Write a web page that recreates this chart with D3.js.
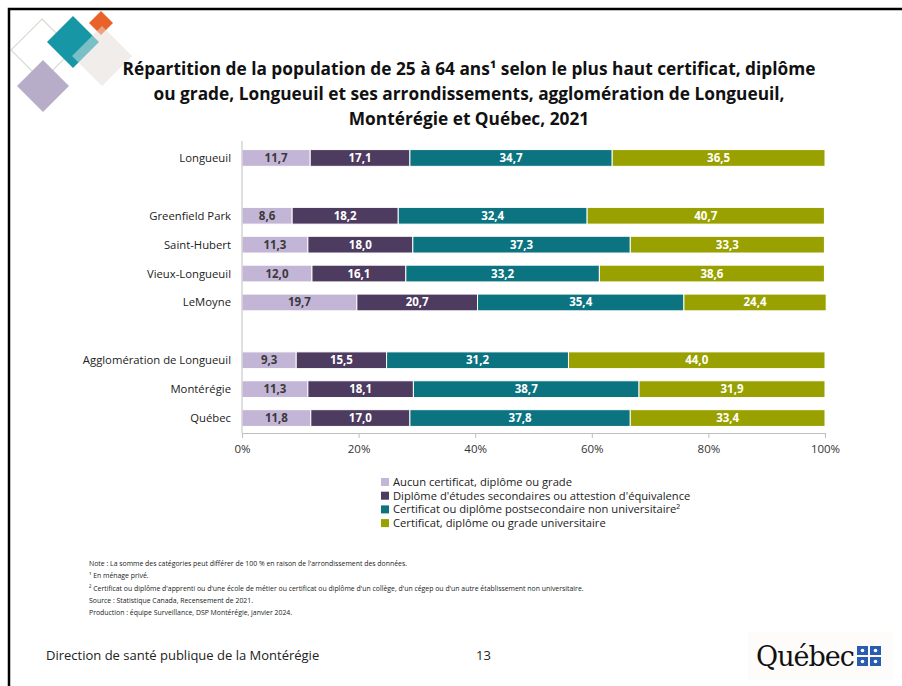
<!DOCTYPE html>
<html>
<head>
<meta charset="utf-8">
<script src="https://cdn.jsdelivr.net/npm/d3@7"></script>
<style>
  body { margin: 0; background: #fff; }
  svg { display: block; font-family: "Open Sans", "Noto Sans", sans-serif; }
</style>
</head>
<body>
<svg id="chart" width="902" height="686"></svg>
<script>
// rows (null = empty spacer slot)
var categories = ["Longueuil", null, "Greenfield Park", "Saint-Hubert", "Vieux-Longueuil", "LeMoyne", null,
  "Agglomération de Longueuil", "Montérégie", "Québec"];
var aucun      = [11.7, null, 8.6, 11.3, 12.0, 19.7, null, 9.3, 11.3, 11.8];
var secondaire = [17.1, null, 18.2, 18.0, 16.1, 20.7, null, 15.5, 18.1, 17.0];
var postsec    = [34.7, null, 32.4, 37.3, 33.2, 35.4, null, 31.2, 38.7, 37.8];
var univ       = [36.5, null, 40.7, 33.3, 38.6, 24.4, null, 44.0, 31.9, 33.4];
var seriesNames = ["Aucun certificat, diplôme ou grade",
  "Diplôme d'études secondaires ou attestion d'équivalence",
  "Certificat ou diplôme postsecondaire non universitaire²",
  "Certificat, diplôme ou grade universitaire"];
var tickValues = [0, 20, 40, 60, 80, 100];
var colors = ["#c3b5d6", "#4d3b60", "#0c7380", "#99a100"];
var labelColors = ["#3a3a3a", "#fff", "#fff", "#fff"];
var titleLines = ["Répartition de la population de 25 à 64 ans¹ selon le plus haut certificat, diplôme",
  "ou grade, Longueuil et ses arrondissements, agglomération de Longueuil,",
  "Montérégie et Québec, 2021"];
var notes = ["Note : La somme des catégories peut différer de 100 % en raison de l'arrondissement des données.",
  "¹ En ménage privé.",
  "² Certificat ou diplôme d'apprenti ou d'une école de métier ou certificat ou diplôme d'un collège, d'un cégep ou d'un autre établissement non universitaire.",
  "Source : Statistique Canada, Recensement de 2021.",
  "Production : équipe Surveillance, DSP Montérégie, janvier 2024."];

var svg = d3.select("#chart");

// decoration diamonds
function diamond(cx, cy, r) { return "M" + cx + "," + (cy - r) + " L" + (cx + r) + "," + cy + " L" + cx + "," + (cy + r) + " L" + (cx - r) + "," + cy + "Z"; }
var deco = svg.append("g");
deco.append("path").attr("d", diamond(42, 50, 31)).attr("fill", "none").attr("stroke", "#d6dcd2").attr("stroke-width", 1.2);
deco.append("path").attr("d", diamond(102, 56, 30)).attr("fill", "#ebe8e6").attr("opacity", 0.85);
deco.append("path").attr("d", diamond(73, 42, 26)).attr("fill", "#1797a6");
deco.append("path").attr("d", diamond(101, 23, 12)).attr("fill", "#e8622a");
deco.append("path").attr("d", diamond(102, 56, 30)).attr("fill", "#f2f0ee").attr("opacity", 0.45);
deco.append("path").attr("d", diamond(43, 86, 26)).attr("fill", "#b7adc8");

// slide frame
svg.append("path").attr("d", "M9,686 V9 H902").attr("fill", "none").attr("stroke", "#000").attr("stroke-width", 2.5);

// title
svg.append("g").selectAll("text").data(titleLines).join("text")
  .attr("x", 469).attr("y", function(d, i) { return 75 + i * 25; })
  .attr("text-anchor", "middle").attr("font-size", 17.3).attr("font-weight", "bold").attr("fill", "#111")
  .text(function(d) { return d; });

var x = d3.scaleLinear().domain([0, 100]).range([242, 825]);
var keys = categories.map(function(c, i) { return c === null ? "_" + i : c; });
var y = d3.scaleBand().domain(keys).range([143.5, 432.5]).paddingInner(0.42).paddingOuter(0.21);

var series = [aucun, secondaire, postsec, univ];
var rows = categories.map(function(c, i) {
  var o = { key: keys[i] };
  series.forEach(function(s, j) { o["s" + j] = s[i]; });
  return o;
}).filter(function(d, i) { return categories[i] !== null; });

var stack = d3.stack().keys(["s0", "s1", "s2", "s3"])(rows);

var g = svg.append("g");
stack.forEach(function(layer, j) {
  var lg = g.append("g");
  lg.selectAll("rect").data(layer).join("rect")
    .attr("x", function(d) { return x(d[0]); })
    .attr("width", function(d) { return x(d[1]) - x(d[0]); })
    .attr("y", function(d) { return y(d.data.key); })
    .attr("height", y.bandwidth())
    .attr("fill", colors[j]).attr("stroke", "#fff").attr("stroke-width", 1);
  lg.selectAll("text").data(layer).join("text")
    .attr("x", function(d) { return (x(d[0]) + x(d[1])) / 2; })
    .attr("y", function(d) { return y(d.data.key) + y.bandwidth() / 2 + 4; })
    .attr("text-anchor", "middle").attr("font-size", 11.5).attr("font-weight", "bold")
    .attr("fill", labelColors[j])
    .text(function(d) { return d3.format(".1f")(d[1] - d[0]).replace(".", ","); });
});

// category labels
svg.append("g").selectAll("text").data(rows).join("text")
  .attr("x", 231).attr("y", function(d) { return y(d.key) + y.bandwidth() / 2 + 4; })
  .attr("text-anchor", "end").attr("font-size", 11.3).attr("fill", "#222")
  .text(function(d) { return d.key; });

// axes
svg.append("line").attr("x1", x(0)).attr("x2", x(0)).attr("y1", 141).attr("y2", 433)
  .attr("stroke", "#bfbfbf");
var ax = svg.append("g").attr("transform", "translate(0,433)")
  .call(d3.axisBottom(x).tickValues(tickValues).tickSize(5).tickFormat(function(d) { return d + "%"; }));
ax.select(".domain").attr("stroke", "#bfbfbf");
ax.selectAll(".tick line").attr("stroke", "#bfbfbf");
ax.selectAll(".tick text").attr("font-size", 11.5).attr("fill", "#333").attr("dy", "1.05em")
  .style("font-family", "'Open Sans', 'Noto Sans', sans-serif");

// legend
var leg = svg.append("g").selectAll("g").data(seriesNames).join("g")
  .attr("transform", function(d, i) { return "translate(381," + (482 + i * 13.7) + ")"; });
leg.append("rect").attr("x", 0).attr("y", -4).attr("width", 8).attr("height", 8)
  .attr("fill", function(d, i) { return colors[i]; });
leg.append("text").attr("x", 12).attr("y", 4).attr("font-size", 11.2).attr("fill", "#222")
  .text(function(d) { return d; });

// notes
svg.append("g").selectAll("text").data(notes).join("text")
  .attr("x", 89).attr("y", function(d, i) { return 566 + i * 12.3; })
  .attr("font-size", 6.9).attr("fill", "#222")
  .text(function(d) { return d; });

// footer
svg.append("text").attr("x", 46).attr("y", 660).attr("font-size", 13).attr("fill", "#222")
  .text("Direction de santé publique de la Montérégie");
svg.append("text").attr("x", 476).attr("y", 660).attr("font-size", 13).attr("fill", "#222").text("13");

// Québec wordmark
var logo = svg.append("g");
logo.append("rect").attr("x", 748).attr("y", 632).attr("width", 145).attr("height", 48).attr("fill", "#fdfcfb");
logo.append("text").attr("x", 756).attr("y", 666).attr("font-size", 27)
  .attr("font-family", "'DejaVu Serif', serif").attr("fill", "#111").attr("letter-spacing", -1).text("Québec");
[[857, 646], [870, 646], [857, 657], [870, 657]].forEach(function(p) {
  logo.append("rect").attr("x", p[0]).attr("y", p[1]).attr("width", 11).attr("height", 9).attr("fill", "#2a5db0");
  logo.append("circle").attr("cx", p[0] + 5.5).attr("cy", p[1] + 4.5).attr("r", 1.8).attr("fill", "#fff");
});
</script>
</body>
</html>
